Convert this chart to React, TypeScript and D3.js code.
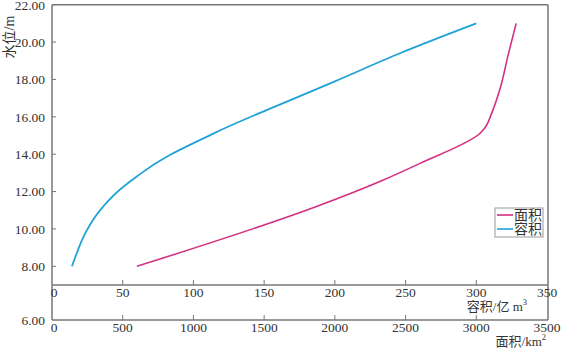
import React from "react";
import * as d3 from "d3";

// 容积 (亿 m³) vs 水位 (m)
const volumeData: [number, number][] = [
  [14.1, 8.0], [17.5, 8.7], [21.5, 9.45], [29.2, 10.5], [41, 11.6], [63.4, 13.0],
  [114, 15.1], [161, 16.65], [200, 17.9], [246, 19.4], [300, 21.0],
];
// 面积 (km²) vs 水位 (m)
const areaData: [number, number][] = [
  [600, 8.0], [1870, 11.2], [2343, 12.62], [2602, 13.51], [3027, 15.12],
  [3060, 15.4], [3109, 16.2], [3168, 17.5], [3225, 19.3], [3282, 21.0],
];
const yTicks = [8, 10, 12, 14, 16, 18, 20, 22];
const volTicks = [0, 50, 100, 150, 200, 250, 300, 350];
const areaTicks = [0, 500, 1000, 1500, 2000, 2500, 3000, 3500];
const seriesNames = ["面积", "容积"];
const colors = ["#d42f80", "#1fa3d6"];

const L = 52, R = 548, T = 4.7, AX1 = 285, AX2 = 320;
const FONT = "'Liberation Serif', 'Times New Roman', 'Noto Sans CJK SC', serif";
const AXC = "#777";

export default function App() {
  const y = d3.scaleLinear().domain([7, 22]).range([AX1, T]);
  const xVol = d3.scaleLinear().domain([0, 350]).range([L, 547]);
  const xArea = d3.scaleLinear().domain([0, 3500]).range([L, 547]);

  const volLine = d3.line<[number, number]>()
    .x(d => xVol(d[0])).y(d => y(d[1]))
    .curve(d3.curveMonotoneX);
  const areaLine = d3.line<[number, number]>()
    .x(d => xArea(d[0])).y(d => y(d[1]))
    .curve(d3.curveMonotoneY);

  return (
    <svg width={561} height={348} style={{ position: "absolute", left: 0, top: 0, background: "#fff" }}
      fontFamily={FONT}>
      {/* frame */}
      <line x1={L} x2={R} y1={T} y2={T} stroke={AXC} strokeWidth={1.5} />
      <line x1={L} x2={L} y1={T} y2={AX2} stroke={AXC} strokeWidth={1.5} />
      <line x1={R} x2={R} y1={T} y2={AX2} stroke={AXC} strokeWidth={1.5} />
      <line x1={L} x2={R} y1={AX1} y2={AX1} stroke={AXC} strokeWidth={1.5} />
      <line x1={L} x2={R} y1={AX2} y2={AX2} stroke={AXC} strokeWidth={1.5} />

      {/* y ticks */}
      {yTicks.map(t => (
        <g key={"y" + t}>
          <line x1={L} x2={L + 4} y1={y(t)} y2={y(t)} stroke={AXC} strokeWidth={1} />
          <text x={45} y={y(t) + (t === 22 ? 1 : 0)} dy="0.35em" textAnchor="end" fontSize={13.5} fill="#333">{t.toFixed(2)}</text>
        </g>
      ))}
      <text x={45} y={AX2} dy="0.35em" textAnchor="end" fontSize={13.5} fill="#333">6.00</text>

      {/* volume axis */}
      {volTicks.map(t => (
        <g key={"v" + t}>
          {t > 0 && t < 350 && <line x1={xVol(t)} x2={xVol(t)} y1={AX1} y2={AX1 - 5} stroke={AXC} strokeWidth={1} />}
          <text x={xVol(t) + (t === 0 ? 2 : 0)} y={297} textAnchor="middle" fontSize={13.5} fill="#333">{t}</text>
        </g>
      ))}
      {/* area axis */}
      {areaTicks.map(t => (
        <g key={"a" + t}>
          {t > 0 && t < 3500 && <line x1={xArea(t)} x2={xArea(t)} y1={AX2} y2={AX2 - 5} stroke={AXC} strokeWidth={1} />}
          <text x={xArea(t) + (t === 0 ? 2 : 0)} y={332} textAnchor="middle" fontSize={13.5} fill="#333">{t}</text>
        </g>
      ))}

      <text x={527} y={311} textAnchor="end" fontSize={13} fill="#333">
        容积/亿 m<tspan fontSize={8.5} dy={-6}>3</tspan>
      </text>
      <text x={546} y={346} textAnchor="end" fontSize={13} fill="#333">
        面积/km<tspan fontSize={8.5} dy={-6}>2</tspan>
      </text>
      <text transform="translate(14,37) rotate(-90)" textAnchor="middle" fontSize={14} fill="#333">水位/m</text>

      {/* curves */}
      <path d={areaLine(areaData) || ""} fill="none" stroke={colors[0]} strokeWidth={1.6} />
      <path d={volLine(volumeData) || ""} fill="none" stroke={colors[1]} strokeWidth={1.8} />

      {/* legend */}
      <rect x={495} y={208} width={48} height={29} fill="#fff" stroke="#999" strokeWidth={1} />
      {seriesNames.map((n, i) => (
        <g key={n}>
          <line x1={497} x2={513} y1={215 + i * 14} y2={215 + i * 14} stroke={colors[i]} strokeWidth={1.6} />
          <text x={514} y={220 + i * 14} fontSize={14} fill="#333">{n}</text>
        </g>
      ))}
    </svg>
  );
}
